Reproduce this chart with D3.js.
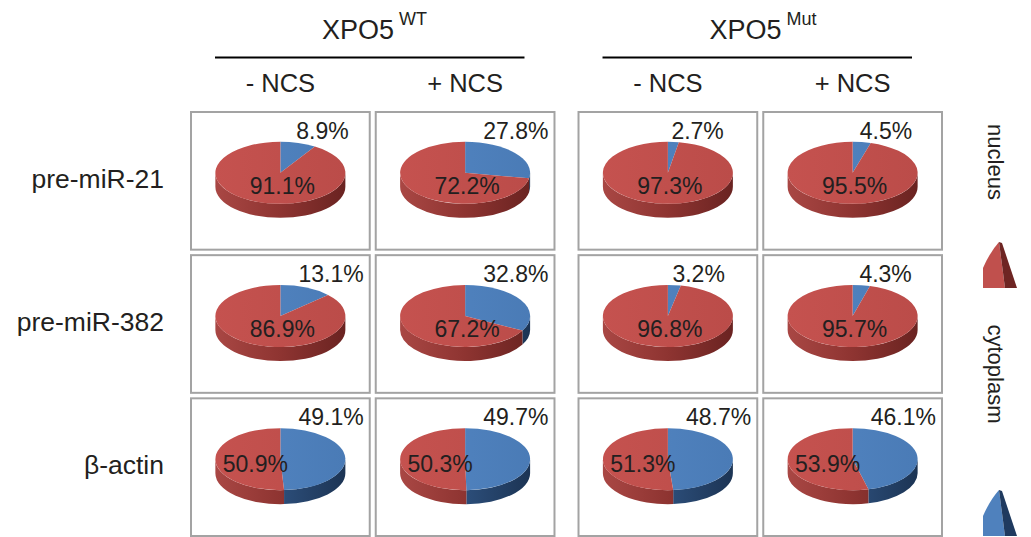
<!DOCTYPE html>
<html>
<head>
<meta charset="utf-8">
<script src="https://cdn.jsdelivr.net/npm/d3@7"></script>
<style>
  html, body { margin: 0; padding: 0; background: #fff; }
  svg { display: block; font-family: "Liberation Sans", Arial, Helvetica, sans-serif; }
</style>
</head>
<body>
<svg id="chart" width="1031" height="537"></svg>
<script>
// ---- data ----
const genotypes = ["WT", "Mut"];
const conditions = ["- NCS", "+ NCS"];
const transcripts = ["pre-miR-21", "pre-miR-382", "β-actin"];
const compartments = ["cytoplasm", "nucleus"];
// percentages per transcript; columns: WT -NCS, WT +NCS, Mut -NCS, Mut +NCS
const cytoplasmPct = [
  [8.9, 27.8, 2.7, 4.5],
  [13.1, 32.8, 3.2, 4.3],
  [49.1, 49.7, 48.7, 46.1]
];
const nucleusPct = [
  [91.1, 72.2, 97.3, 95.5],
  [86.9, 67.2, 96.8, 95.7],
  [50.9, 50.3, 51.3, 53.9]
];

// ---- layout ----
const W = 1031, H = 537;
const svg = d3.select("#chart");
svg.append("rect").attr("width", W).attr("height", H).attr("fill", "#fff");

const textColor = "#231f20";
const xGroup = d3.scaleBand().domain(genotypes).range([191, 942]).paddingInner(0.062);
const xCond = d3.scaleBand().domain(conditions).range([0, xGroup.bandwidth()]).paddingInner(0.0325);
const yRow = d3.scaleBand().domain(transcripts).range([112, 536]).paddingInner(0.0384);

// 3D pie geometry: ellipse top face plus a visible front rim
const rx = 65, ry = 31, depth = 14;
const k = ry / rx;
const D = depth / k; // rim height in unscaled (circle) space

const defs = svg.append("defs");
function gradient(id, stops) {
  const g = defs.append("linearGradient").attr("id", id)
    .attr("gradientUnits", "userSpaceOnUse")
    .attr("x1", -rx).attr("x2", rx).attr("y1", 0).attr("y2", 0);
  stops.forEach(([o, c]) => g.append("stop").attr("offset", o).attr("stop-color", c));
}
gradient("side-nucleus", [[0, "#a94744"], [0.5, "#8e3431"], [1, "#6a2321"]]);
gradient("side-cytoplasm", [[0, "#3b6597"], [0.5, "#2c4e7a"], [1, "#1c3454"]]);
gradient("top-nucleus", [[0, "#c5524f"], [1, "#bb4c49"]]);
gradient("top-cytoplasm", [[0, "#5386c3"], [1, "#4a7bb6"]]);

const topFill = d3.scaleOrdinal(compartments, ["url(#top-cytoplasm)", "url(#top-nucleus)"]);
const sideFill = d3.scaleOrdinal(compartments, ["url(#side-cytoplasm)", "url(#side-nucleus)"]);

const pie = d3.pie().sort(null).value(d => d.value);
const arcTop = d3.arc().innerRadius(0).outerRadius(rx);

function sidePath(a0, a1) {
  const s = Math.max(a0, Math.PI / 2), e = Math.min(a1, 3 * Math.PI / 2);
  if (e <= s) return null;
  const m0 = s - Math.PI / 2, m1 = e - Math.PI / 2;
  const p = d3.path();
  p.moveTo(rx * Math.cos(m0), rx * Math.sin(m0));
  p.arc(0, 0, rx, m0, m1, false);
  p.lineTo(rx * Math.cos(m1), rx * Math.sin(m1) + D);
  p.arc(0, D, rx, m1, m0, true);
  p.closePath();
  return p.toString();
}

// ---- header ----
genotypes.forEach(g => {
  const gx = xGroup(g), gw = xGroup.bandwidth();
  const lx1 = gx + 24, lx2 = gx + gw - 30;
  svg.append("line")
    .attr("x1", lx1).attr("x2", lx2).attr("y1", 57.5).attr("y2", 57.5)
    .attr("stroke", "#000").attr("stroke-width", 2);
  const t = svg.append("text")
    .attr("x", lx1 + 107).attr("y", 39)
    .attr("fill", textColor).attr("font-size", 27);
  t.append("tspan").text("XPO5");
  t.append("tspan").attr("dx", 5).attr("dy", -14).attr("font-size", 18).text(g);
  conditions.forEach(c => {
    svg.append("text")
      .attr("x", gx + xCond(c) + xCond.bandwidth() / 2).attr("y", 92)
      .attr("text-anchor", "middle").attr("fill", textColor).attr("font-size", 25.5)
      .text(c);
  });
});

// ---- row labels ----
transcripts.forEach(t => {
  svg.append("text")
    .attr("x", 164).attr("y", yRow(t) + yRow.bandwidth() / 2 + 7)
    .attr("text-anchor", "end").attr("fill", textColor).attr("font-size", 26.5)
    .text(t);
});

// ---- pie cells ----
transcripts.forEach((t, ri) => {
  const y0 = yRow(t), h = yRow.bandwidth();
  genotypes.forEach((g, gi) => {
    conditions.forEach((c, ci) => {
      const col = gi * 2 + ci;
      const x0 = xGroup(g) + xCond(c), w = xCond.bandwidth();
      const cx = x0 + w / 2;
      const cy = y0 + h / 2 - 1 - depth / 2;

      svg.append("rect")
        .attr("x", x0).attr("y", y0).attr("width", w).attr("height", h)
        .attr("fill", "none").attr("stroke", "#a3a3a3").attr("stroke-width", 2);

      const slices = pie([
        { key: "cytoplasm", value: cytoplasmPct[ri][col] },
        { key: "nucleus", value: nucleusPct[ri][col] }
      ]);

      const gPie = svg.append("g")
        .attr("transform", `translate(${cx},${cy}) scale(1,${k})`);
      slices.forEach(s => {
        const d = sidePath(s.startAngle, s.endAngle);
        if (d) gPie.append("path").attr("d", d).attr("fill", sideFill(s.data.key));
      });
      slices.forEach(s => {
        gPie.append("path").attr("d", arcTop(s)).attr("fill", topFill(s.data.key));
      });

      // value labels
      const cyto = slices[0], nuc = slices[1];
      const mid = (cyto.startAngle + cyto.endAngle) / 2;
      const cLabel = svg.append("text")
        .attr("y", cy - ry - 3)
        .attr("fill", textColor).attr("font-size", 23)
        .text(cyto.data.value.toFixed(1) + "%");
      const cw = cLabel.node().getComputedTextLength();
      const lx = Math.min(cx + rx * Math.sin(mid) - 2, x0 + w - 6 - cw);
      cLabel.attr("x", lx);

      const big = nuc.data.value > 60;
      svg.append("text")
        .attr("x", big ? cx + 2 : cx - 25)
        .attr("y", big ? cy + 21 : cy + 13)
        .attr("text-anchor", "middle").attr("fill", textColor).attr("font-size", 23)
        .text(nuc.data.value.toFixed(1) + "%");
    });
  });
});

// ---- legend ----
const legendColors = {
  nucleus: ["#c0504d", "#6e2523"],
  cytoplasm: ["#4f81bd", "#1f3a5f"]
};
const legendItems = [
  { key: "nucleus", textY: 162, iconY: 288 },
  { key: "cytoplasm", textY: 374, iconY: 536 }
];
legendItems.forEach(it => {
  svg.append("text")
    .attr("transform", `translate(988,${it.textY}) rotate(90)`)
    .attr("text-anchor", "middle").attr("fill", textColor).attr("font-size", 22)
    .text(it.key);
  const gi = svg.append("g").attr("transform", `translate(983,${it.iconY})`);
  gi.append("path").attr("d", "M0,-20 Q7,-36 16,-46 L22,0 L0,0 Z")
    .attr("fill", legendColors[it.key][0]);
  gi.append("path").attr("d", "M16,-46 L19,-45 L34,0 L22,0 Z")
    .attr("fill", legendColors[it.key][1]);
});
</script>
</body>
</html>
